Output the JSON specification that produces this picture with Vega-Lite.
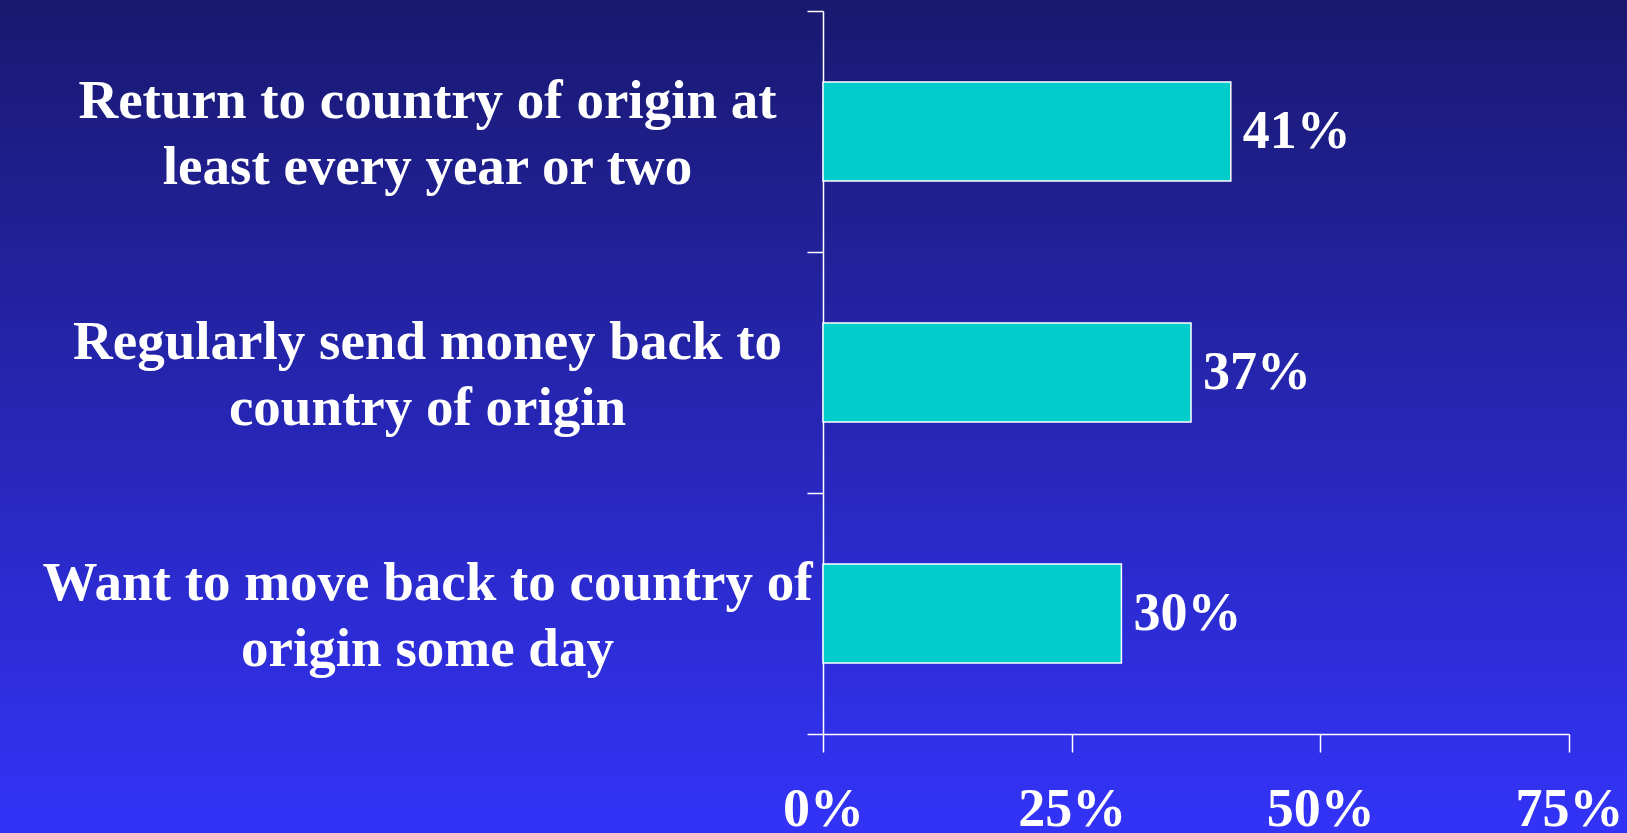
{
  "$schema": "https://vega.github.io/schema/vega-lite/v6.json",
  "width": 1627,
  "height": 833,
  "autosize": {"type": "none"},
  "padding": 0,
  "background": "#262699",
  "view": {
    "stroke": null,
    "fill": {
      "gradient": "linear",
      "x1": 0, "y1": 0, "x2": 0, "y2": 1,
      "stops": [
        {"offset": 0, "color": "#191970"},
        {"offset": 1, "color": "#3333F8"}
      ]
    }
  },
  "data": {
    "values": [
      {"item": "Return to country of origin at\nleast every year or two", "share": 0.41},
      {"item": "Regularly send money back to\ncountry of origin", "share": 0.37},
      {"item": "Want to move back to country of\norigin some day", "share": 0.30}
    ]
  },
  "encoding": {
    "y": {
      "field": "item",
      "type": "nominal",
      "sort": null,
      "scale": {"range": [11, 734], "paddingInner": 0, "paddingOuter": 0},
      "axis": {
        "title": null,
        "offset": -823,
        "tickBand": "extent",
        "tickSize": 16,
        "tickWidth": 1.5,
        "tickColor": "white",
        "domainColor": "white",
        "domainWidth": 1.5,
        "labelExpr": "split(datum.label, '\\n')",
        "labelAlign": "center",
        "labelBaseline": "middle",
        "labelPadding": 380,
        "labelOffset": -31,
        "labelLineHeight": 66,
        "labelLimit": 0,
        "labelFont": "Liberation Serif",
        "labelFontWeight": "bold",
        "labelFontSize": 55,
        "labelColor": "white"
      }
    },
    "x": {
      "field": "share",
      "type": "quantitative",
      "scale": {"domain": [0, 0.75], "range": [823, 1569], "nice": false},
      "axis": {
        "title": null,
        "offset": -99,
        "values": [0, 0.25, 0.5, 0.75],
        "format": ".0%",
        "grid": false,
        "tickSize": 18,
        "tickWidth": 1.5,
        "tickColor": "white",
        "domainColor": "white",
        "domainWidth": 1.5,
        "labelFlush": false,
        "labelOverlap": false,
        "labelPadding": 30,
        "labelFont": "Liberation Serif",
        "labelFontWeight": "bold",
        "labelFontSize": 54,
        "labelColor": "white"
      }
    }
  },
  "layer": [
    {
      "mark": {"type": "bar", "height": {"band": 0.41}, "fill": "#00CCCC", "stroke": "white", "strokeWidth": 1.5}
    },
    {
      "mark": {
        "type": "text",
        "align": "left",
        "baseline": "middle",
        "dx": 12,
        "font": "Liberation Serif",
        "fontWeight": "bold",
        "fontSize": 54,
        "color": "white"
      },
      "encoding": {
        "text": {"field": "share", "type": "quantitative", "format": ".0%"}
      }
    }
  ]
}
